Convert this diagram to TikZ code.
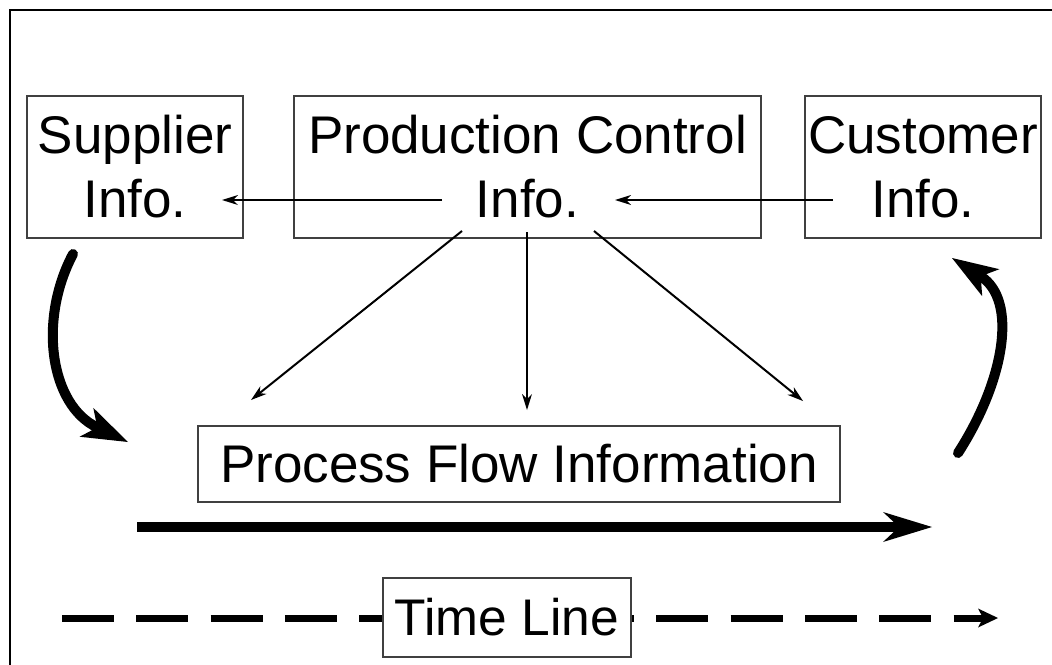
\documentclass[tikz,border=0pt]{standalone}
\usepackage{fontspec}
\setmainfont{Liberation Sans}
\usetikzlibrary{arrows.meta}
\begin{document}
\begin{tikzpicture}[x=1pt,y=-1pt,
  infobox/.style={draw=black!75, line width=1.4pt, fill=white, inner sep=0pt,
    align=center, font=\fontsize{53}{64}\selectfont},
  thinarrow/.style={line width=2pt,
    -{Stealth[length=16pt,width=10pt,inset=5pt,line width=0pt]}},
  bigarrow/.style={line width=10pt,
    -{Stealth[length=49pt,width=30pt,inset=16pt,line width=0pt]}},
  curvearrow/.style={line width=10pt, line cap=round,
    -{Stealth[length=46pt,width=32pt,inset=12pt,line width=0pt]}},
  timearrow/.style={line width=7pt, dash pattern=on 52pt off 22.3pt,
    -{Stealth[length=20pt,width=19pt,inset=5pt,line width=0pt]}}
]
\useasboundingbox (0,0) rectangle (1052,664);
\fill[white] (0,0) rectangle (1052,664);

% outer frame (runs past the page on the right and bottom)
\draw[line width=2pt] (9.5,9.5) rectangle (1080,700);

% information boxes
\node[infobox, minimum width=216pt, minimum height=142pt] (sup) at (135,167)
  {Supplier\\Info.};
\node[infobox, minimum width=467pt, minimum height=142pt] (pc) at (527.5,167)
  {Production Control\\Info.};
\node[infobox, minimum width=236pt, minimum height=142pt] (cus) at (923,167)
  {Customer\\Info.};
\node[infobox, minimum width=642pt, minimum height=76pt] (pf) at (519,464)
  {Process Flow Information};

% connector end points
\coordinate (pcW) at (442,200);
\coordinate (supIn) at (222,200);
\coordinate (cusW) at (833,200);
\coordinate (pcIn) at (615,200);
\coordinate (pcSW) at (462,231);
\coordinate (pfNW) at (251,400);
\coordinate (pcS) at (527,232);
\coordinate (pfN) at (527,410);
\coordinate (pcSE) at (594,231);
\coordinate (pfNE) at (803,401);

\draw[thinarrow] (pcW) -- (supIn);
\draw[thinarrow] (cusW) -- (pcIn);
\draw[thinarrow] (pcSW) -- (pfNW);
\draw[thinarrow] (pcS) -- (pfN);
\draw[thinarrow] (pcSE) -- (pfNE);

% curved flow arrows
\coordinate (supOut) at (73,254);
\coordinate (flowIn) at (128,442);
\coordinate (flowOut) at (958,453);
\coordinate (cusIn) at (952,258);
\draw[curvearrow] (supOut) .. controls (38,320) and (50,405) .. (flowIn);
\draw[curvearrow] (flowOut) .. controls (1005,380) and (1018,300) .. (cusIn);

% main flow arrow
\coordinate (flowA) at (137,527);
\coordinate (flowB) at (932,527);
\draw[bigarrow] (flowA) -- (flowB);

% time line
\coordinate (timeA) at (62,618);
\coordinate (timeB) at (998,618);
\draw[timearrow] (timeA) -- (timeB);
\node[infobox, minimum width=248pt, minimum height=79pt,
  font=\fontsize{51.5}{62}\selectfont] (tl) at (507,617.5) {Time Line};
\end{tikzpicture}
\end{document}
